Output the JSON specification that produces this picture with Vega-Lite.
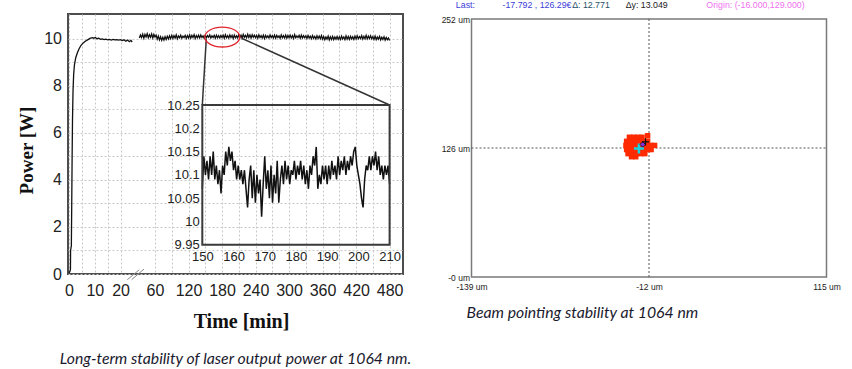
{
 "$schema": "https://vega.github.io/schema/vega-lite/v6.json",
 "background": "white",
 "padding": {"left": 16, "top": 0, "right": 0, "bottom": 0},
 "spacing": 27.5,
 "config": {"view": {"stroke": null}, "font": "Liberation Sans"},
 "hconcat": [
  {
   "width": 335, "height": 260,
   "view": {"stroke": "#4d4d4d", "strokeWidth": 2},
   "title": {"text": "Long-term stability of laser output power at 1064 nm.", "orient": "bottom", "anchor": "middle", "frame": "group", "font": "Lato", "fontStyle": "italic", "fontWeight": "normal", "fontSize": 15.8, "color": "#1a1a2e", "offset": 21},
   "layer": [
    {"layer": [
     {"data": {"values": [
      {"seg":"a","t":0,"p":0.05},{"seg":"a","t":0.3,"p":0.1},{"seg":"a","t":0.55,"p":0.2},{"seg":"a","t":0.6,"p":1.0},{"seg":"a","t":0.9,"p":1.2},{"seg":"a","t":1.05,"p":3.0},{"seg":"a","t":1.2,"p":5.0},{"seg":"a","t":1.35,"p":6.6},{"seg":"a","t":1.55,"p":7.8},{"seg":"a","t":1.8,"p":8.5},{"seg":"a","t":2.1,"p":8.9},{"seg":"a","t":2.6,"p":9.2},{"seg":"a","t":3.2,"p":9.4},{"seg":"a","t":3.9,"p":9.58},{"seg":"a","t":4.6,"p":9.72},{"seg":"a","t":5.4,"p":9.82},{"seg":"a","t":6.3,"p":9.9},{"seg":"a","t":7.2,"p":9.96},{"seg":"a","t":8.1,"p":10.02},{"seg":"a","t":9.0,"p":10.05},{"seg":"a","t":9.6,"p":10.03},{"seg":"a","t":10.2,"p":10.06},{"seg":"a","t":10.8,"p":10.01},{"seg":"a","t":11.5,"p":10.03},{"seg":"a","t":12.2,"p":9.98},{"seg":"a","t":12.9,"p":10.0},{"seg":"a","t":13.6,"p":9.97},{"seg":"a","t":14.3,"p":9.99},{"seg":"a","t":15.0,"p":9.96},{"seg":"a","t":15.7,"p":9.98},{"seg":"a","t":16.4,"p":9.95},{"seg":"a","t":17.1,"p":9.98},{"seg":"a","t":17.8,"p":9.96},{"seg":"a","t":18.5,"p":9.97},{"seg":"a","t":19.2,"p":9.95},{"seg":"a","t":19.9,"p":9.97},{"seg":"a","t":20.6,"p":9.93},{"seg":"a","t":21.3,"p":9.96},{"seg":"a","t":22.0,"p":9.9},{"seg":"a","t":22.7,"p":9.95},{"seg":"a","t":23.4,"p":9.88},{"seg":"a","t":24.0,"p":9.94},{"seg":"a","t":24.5,"p":9.87},
      {"seg":"b","t":32,"p":10.04},{"seg":"b","t":34,"p":10.17},{"seg":"b","t":36,"p":10.06},{"seg":"b","t":38,"p":10.20},{"seg":"b","t":40,"p":10.03},{"seg":"b","t":42,"p":10.19},{"seg":"b","t":44,"p":10.08},{"seg":"b","t":46,"p":10.22},{"seg":"b","t":48,"p":10.05},{"seg":"b","t":50,"p":10.18},{"seg":"b","t":52,"p":10.07},{"seg":"b","t":54,"p":10.21},{"seg":"b","t":56,"p":10.04},{"seg":"b","t":58,"p":10.19},
      {"seg":"b","t":60,"p":10.08},{"seg":"b","t":62,"p":10.16},{"seg":"b","t":64,"p":9.99},{"seg":"b","t":66,"p":10.12},{"seg":"b","t":68,"p":9.96},{"seg":"b","t":70,"p":10.09},{"seg":"b","t":72,"p":9.94},{"seg":"b","t":74,"p":10.07},{"seg":"b","t":76,"p":9.95},{"seg":"b","t":78,"p":10.10},{"seg":"b","t":80,"p":9.98},{"seg":"b","t":82,"p":10.11},{"seg":"b","t":84,"p":10.00},{"seg":"b","t":86,"p":10.13},{"seg":"b","t":88,"p":10.01},
      {"seg":"b","t":90,"p":10.15},{"seg":"b","t":92,"p":10.02},{"seg":"b","t":94,"p":10.14},{"seg":"b","t":96,"p":10.04},{"seg":"b","t":98,"p":10.17},{"seg":"b","t":100,"p":10.01},{"seg":"b","t":102,"p":10.13},{"seg":"b","t":104,"p":10.05},{"seg":"b","t":106,"p":10.16},{"seg":"b","t":108,"p":10.03},{"seg":"b","t":110,"p":10.12},{"seg":"b","t":112,"p":10.06},{"seg":"b","t":114,"p":10.15},{"seg":"b","t":116,"p":10.02},{"seg":"b","t":118,"p":10.14},
      {"seg":"b","t":120,"p":10.04},{"seg":"b","t":122,"p":10.17},{"seg":"b","t":124,"p":10.03},{"seg":"b","t":126,"p":10.15},{"seg":"b","t":128,"p":10.06},{"seg":"b","t":130,"p":10.18},{"seg":"b","t":132,"p":10.02},{"seg":"b","t":134,"p":10.14},{"seg":"b","t":136,"p":10.05},{"seg":"b","t":138,"p":10.16},{"seg":"b","t":140,"p":10.04},{"seg":"b","t":142,"p":10.17},{"seg":"b","t":144,"p":10.06},{"seg":"b","t":146,"p":10.13},{"seg":"b","t":148,"p":10.03},
      {"seg":"b","t":150,"p":10.16},{"seg":"b","t":152,"p":10.05},{"seg":"b","t":154,"p":10.14},{"seg":"b","t":156,"p":10.07},{"seg":"b","t":158,"p":10.17},{"seg":"b","t":160,"p":10.04},{"seg":"b","t":162,"p":10.13},{"seg":"b","t":164,"p":10.06},{"seg":"b","t":166,"p":10.15},{"seg":"b","t":168,"p":10.03},{"seg":"b","t":170,"p":10.16},{"seg":"b","t":172,"p":10.05},{"seg":"b","t":174,"p":10.14},{"seg":"b","t":176,"p":10.04},{"seg":"b","t":178,"p":10.15},
      {"seg":"b","t":180,"p":10.06},{"seg":"b","t":182,"p":10.16},{"seg":"b","t":184,"p":10.03},{"seg":"b","t":186,"p":10.18},{"seg":"b","t":188,"p":10.05},{"seg":"b","t":190,"p":10.14},{"seg":"b","t":192,"p":10.04},{"seg":"b","t":194,"p":10.17},{"seg":"b","t":196,"p":10.06},{"seg":"b","t":198,"p":10.15},{"seg":"b","t":200,"p":10.02},{"seg":"b","t":202,"p":10.16},{"seg":"b","t":204,"p":10.05},{"seg":"b","t":206,"p":10.13},{"seg":"b","t":208,"p":10.04},
      {"seg":"b","t":210,"p":10.18},{"seg":"b","t":212,"p":10.06},{"seg":"b","t":214,"p":10.16},{"seg":"b","t":216,"p":10.04},{"seg":"b","t":218,"p":10.19},{"seg":"b","t":220,"p":10.07},{"seg":"b","t":222,"p":10.15},{"seg":"b","t":224,"p":10.05},{"seg":"b","t":226,"p":10.20},{"seg":"b","t":228,"p":10.06},{"seg":"b","t":230,"p":10.17},{"seg":"b","t":232,"p":10.04},{"seg":"b","t":234,"p":10.18},{"seg":"b","t":236,"p":10.07},{"seg":"b","t":238,"p":10.16},
      {"seg":"b","t":240,"p":10.05},{"seg":"b","t":242,"p":10.15},{"seg":"b","t":244,"p":10.03},{"seg":"b","t":246,"p":10.17},{"seg":"b","t":248,"p":10.06},{"seg":"b","t":250,"p":10.14},{"seg":"b","t":252,"p":10.04},{"seg":"b","t":254,"p":10.16},{"seg":"b","t":256,"p":10.02},{"seg":"b","t":258,"p":10.15},{"seg":"b","t":260,"p":10.05},{"seg":"b","t":262,"p":10.13},{"seg":"b","t":264,"p":10.04},{"seg":"b","t":266,"p":10.17},{"seg":"b","t":268,"p":10.06},
      {"seg":"b","t":270,"p":10.14},{"seg":"b","t":272,"p":10.04},{"seg":"b","t":274,"p":10.16},{"seg":"b","t":276,"p":10.03},{"seg":"b","t":278,"p":10.15},{"seg":"b","t":280,"p":10.06},{"seg":"b","t":282,"p":10.13},{"seg":"b","t":284,"p":10.02},{"seg":"b","t":286,"p":10.17},{"seg":"b","t":288,"p":10.05},{"seg":"b","t":290,"p":10.14},{"seg":"b","t":292,"p":10.04},{"seg":"b","t":294,"p":10.16},{"seg":"b","t":296,"p":10.03},{"seg":"b","t":298,"p":10.15},
      {"seg":"b","t":300,"p":10.05},{"seg":"b","t":302,"p":10.16},{"seg":"b","t":304,"p":10.04},{"seg":"b","t":306,"p":10.14},{"seg":"b","t":308,"p":10.02},{"seg":"b","t":310,"p":10.18},{"seg":"b","t":312,"p":10.05},{"seg":"b","t":314,"p":10.13},{"seg":"b","t":316,"p":10.06},{"seg":"b","t":318,"p":10.15},{"seg":"b","t":320,"p":10.03},{"seg":"b","t":322,"p":10.16},{"seg":"b","t":324,"p":10.04},{"seg":"b","t":326,"p":10.14},{"seg":"b","t":328,"p":10.05},
      {"seg":"b","t":330,"p":10.13},{"seg":"b","t":332,"p":10.02},{"seg":"b","t":334,"p":10.15},{"seg":"b","t":336,"p":10.04},{"seg":"b","t":338,"p":10.12},{"seg":"b","t":340,"p":10.01},{"seg":"b","t":342,"p":10.14},{"seg":"b","t":344,"p":10.03},{"seg":"b","t":346,"p":10.11},{"seg":"b","t":348,"p":10.00},{"seg":"b","t":350,"p":10.13},{"seg":"b","t":352,"p":10.02},{"seg":"b","t":354,"p":10.12},{"seg":"b","t":356,"p":10.01},{"seg":"b","t":358,"p":10.14},
      {"seg":"b","t":360,"p":9.99},{"seg":"b","t":362,"p":10.10},{"seg":"b","t":364,"p":9.97},{"seg":"b","t":366,"p":10.08},{"seg":"b","t":368,"p":9.99},{"seg":"b","t":370,"p":10.12},{"seg":"b","t":372,"p":9.96},{"seg":"b","t":374,"p":10.09},{"seg":"b","t":376,"p":9.98},{"seg":"b","t":378,"p":10.11},{"seg":"b","t":380,"p":9.97},{"seg":"b","t":382,"p":10.08},{"seg":"b","t":384,"p":9.99},{"seg":"b","t":386,"p":10.10},{"seg":"b","t":388,"p":9.98},
      {"seg":"b","t":390,"p":10.09},{"seg":"b","t":392,"p":9.98},{"seg":"b","t":394,"p":10.12},{"seg":"b","t":396,"p":10.00},{"seg":"b","t":398,"p":10.08},{"seg":"b","t":400,"p":9.97},{"seg":"b","t":402,"p":10.13},{"seg":"b","t":404,"p":9.99},{"seg":"b","t":406,"p":10.10},{"seg":"b","t":408,"p":9.98},{"seg":"b","t":410,"p":10.11},{"seg":"b","t":412,"p":10.00},{"seg":"b","t":414,"p":10.09},{"seg":"b","t":416,"p":9.98},{"seg":"b","t":418,"p":10.12},
      {"seg":"b","t":420,"p":10.00},{"seg":"b","t":422,"p":10.13},{"seg":"b","t":424,"p":10.01},{"seg":"b","t":426,"p":10.10},{"seg":"b","t":428,"p":10.02},{"seg":"b","t":430,"p":10.14},{"seg":"b","t":432,"p":9.99},{"seg":"b","t":434,"p":10.11},{"seg":"b","t":436,"p":10.01},{"seg":"b","t":438,"p":10.15},{"seg":"b","t":440,"p":10.00},{"seg":"b","t":442,"p":10.12},{"seg":"b","t":444,"p":10.02},{"seg":"b","t":446,"p":10.13},{"seg":"b","t":448,"p":10.00},
      {"seg":"b","t":450,"p":10.10},{"seg":"b","t":452,"p":9.98},{"seg":"b","t":454,"p":10.12},{"seg":"b","t":456,"p":9.97},{"seg":"b","t":458,"p":10.08},{"seg":"b","t":460,"p":9.99},{"seg":"b","t":462,"p":10.11},{"seg":"b","t":464,"p":9.96},{"seg":"b","t":466,"p":10.07},{"seg":"b","t":468,"p":9.98},{"seg":"b","t":470,"p":10.09},{"seg":"b","t":472,"p":9.95},{"seg":"b","t":474,"p":10.06},{"seg":"b","t":476,"p":9.97},{"seg":"b","t":478,"p":10.04},{"seg":"b","t":480,"p":9.93}
     ]},
      "mark": {"type": "line", "color": "#111111", "strokeWidth": 1.3},
      "encoding": {
       "x": {"field": "t", "type": "quantitative",
        "scale": {"domain": [-0.4, 24.5, 31, 504], "range": [0, 64.2, 70.8, 335], "nice": false, "zero": false},
        "axis": {"values": [0,5,10,15,20,60,90,120,150,180,210,240,270,300,330,360,390,420,450,480], "tickCount": 100, "format": "d",
         "labelExpr": "indexof([0,10,20,60,120,180,240,300,360,420,480], datum.value) >= 0 ? datum.label : ''",
         "title": "Time [min]", "grid": true, "gridDash": [2, 2], "gridColor": "#c8c8c8", "ticks": false, "domain": false,
         "labelFont": "Liberation Sans", "labelFontSize": 16, "labelColor": "#222222", "labelPadding": 8, "labelFlush": false, "labelOverlap": false,
         "titleFont": "Liberation Serif", "titleFontSize": 20, "titleFontWeight": "bold", "titleColor": "#111111", "titlePadding": 13, "titleX": 173}},
       "y": {"field": "p", "type": "quantitative",
        "scale": {"domain": [0, 11.06], "nice": false, "zero": false},
        "axis": {"values": [0,1,2,3,4,5,6,7,8,9,10], "tickCount": 100, "format": "d",
         "labelExpr": "datum.value % 2 == 0 ? datum.label : ''",
         "title": "Power [W]", "grid": true, "gridDash": [2, 2], "gridColor": "#c8c8c8", "ticks": false, "domain": false,
         "labelFont": "Liberation Sans", "labelFontSize": 16, "labelColor": "#222222", "labelPadding": 6.5, "labelOverlap": false,
         "titleFont": "Liberation Serif", "titleFontSize": 19, "titleFontWeight": "bold", "titleColor": "#111111", "titlePadding": 7, "titleY": 136}},
       "detail": {"field": "seg"}
      }
     },
     {"data": {"values": [{}]}, "mark": {"type": "rule", "color": "#8a8a8a", "strokeWidth": 1},
      "encoding": {"x": {"datum": 22.6, "type": "quantitative"}, "x2": {"datum": 31.9}, "y": {"datum": -0.24, "type": "quantitative"}, "y2": {"datum": 0.18}}},
     {"data": {"values": [{}]}, "mark": {"type": "rule", "color": "#8a8a8a", "strokeWidth": 1},
      "encoding": {"x": {"datum": 24.3, "type": "quantitative"}, "x2": {"datum": 40.3}, "y": {"datum": -0.24, "type": "quantitative"}, "y2": {"datum": 0.21}}},
     {"data": {"values": [{}]}, "mark": {"type": "rule", "color": "#333333", "strokeWidth": 1.5},
      "encoding": {"x": {"datum": 151.8, "type": "quantitative"}, "x2": {"datum": 144.7}, "y": {"datum": 9.99, "type": "quantitative"}, "y2": {"datum": 7.19}}},
     {"data": {"values": [{}]}, "mark": {"type": "rule", "color": "#333333", "strokeWidth": 1.5},
      "encoding": {"x": {"datum": 215, "type": "quantitative"}, "x2": {"datum": 480}, "y": {"datum": 10.03, "type": "quantitative"}, "y2": {"datum": 7.19}}},
     {"data": {"values": [{}]}, "mark": {"type": "point", "shape": "M-1,0A1,0.57,0,1,0,1,0A1,0.57,0,1,0,-1,0Z", "size": 1225, "filled": false, "stroke": "#e3262d", "strokeWidth": 1.3, "opacity": 1},
      "encoding": {"x": {"datum": 180.5, "type": "quantitative"}, "y": {"datum": 10.08, "type": "quantitative"}}}
    ]},
    {"layer": [
     {"data": {"values": [
      {"t":150.0,"p":10.07},{"t":150.5,"p":10.14},{"t":151.0,"p":10.10},{"t":151.5,"p":10.13},{"t":152.0,"p":10.09},{"t":152.5,"p":10.14},{"t":153.0,"p":10.10},{"t":153.5,"p":10.15},{"t":154.0,"p":10.09},{"t":154.5,"p":10.12},
      {"t":155.0,"p":10.08},{"t":155.5,"p":10.11},{"t":156.0,"p":10.06},{"t":156.5,"p":10.12},{"t":157.0,"p":10.10},{"t":157.5,"p":10.15},{"t":158.0,"p":10.12},{"t":158.5,"p":10.16},{"t":159.0,"p":10.13},{"t":159.5,"p":10.15},
      {"t":160.0,"p":10.11},{"t":160.5,"p":10.13},{"t":161.0,"p":10.09},{"t":161.5,"p":10.12},{"t":162.0,"p":10.09},{"t":162.5,"p":10.11},{"t":163.0,"p":10.08},{"t":163.5,"p":10.11},{"t":164.0,"p":10.07},{"t":164.5,"p":10.03},
      {"t":165.0,"p":10.09},{"t":165.5,"p":10.12},{"t":166.0,"p":10.05},{"t":166.5,"p":10.11},{"t":167.0,"p":10.04},{"t":167.5,"p":10.10},{"t":168.0,"p":10.06},{"t":168.5,"p":10.09},{"t":169.0,"p":10.01},{"t":169.5,"p":10.08},
      {"t":170.0,"p":10.14},{"t":170.5,"p":10.07},{"t":171.0,"p":10.11},{"t":171.5,"p":10.05},{"t":172.0,"p":10.12},{"t":172.5,"p":10.04},{"t":173.0,"p":10.10},{"t":173.5,"p":10.06},{"t":174.0,"p":10.13},{"t":174.5,"p":10.04},
      {"t":175.0,"p":10.09},{"t":175.5,"p":10.12},{"t":176.0,"p":10.08},{"t":176.5,"p":10.13},{"t":177.0,"p":10.09},{"t":177.5,"p":10.12},{"t":178.0,"p":10.08},{"t":178.5,"p":10.11},{"t":179.0,"p":10.10},{"t":179.5,"p":10.13},
      {"t":180.0,"p":10.09},{"t":180.5,"p":10.12},{"t":181.0,"p":10.10},{"t":181.5,"p":10.13},{"t":182.0,"p":10.09},{"t":182.5,"p":10.12},{"t":183.0,"p":10.08},{"t":183.5,"p":10.11},{"t":184.0,"p":10.07},{"t":184.5,"p":10.12},
      {"t":185.0,"p":10.10},{"t":185.5,"p":10.14},{"t":186.0,"p":10.12},{"t":186.5,"p":10.16},{"t":187.0,"p":10.07},{"t":187.5,"p":10.10},{"t":188.0,"p":10.08},{"t":188.5,"p":10.12},{"t":189.0,"p":10.09},{"t":189.5,"p":10.12},
      {"t":190.0,"p":10.08},{"t":190.5,"p":10.12},{"t":191.0,"p":10.09},{"t":191.5,"p":10.13},{"t":192.0,"p":10.10},{"t":192.5,"p":10.12},{"t":193.0,"p":10.09},{"t":193.5,"p":10.14},{"t":194.0,"p":10.10},{"t":194.5,"p":10.13},
      {"t":195.0,"p":10.11},{"t":195.5,"p":10.14},{"t":196.0,"p":10.10},{"t":196.5,"p":10.13},{"t":197.0,"p":10.11},{"t":197.5,"p":10.14},{"t":198.0,"p":10.12},{"t":198.5,"p":10.15},{"t":199.0,"p":10.16},{"t":199.5,"p":10.12},
      {"t":200.0,"p":10.10},{"t":200.5,"p":10.08},{"t":201.0,"p":10.05},{"t":201.5,"p":10.03},{"t":202.0,"p":10.09},{"t":202.5,"p":10.12},{"t":203.0,"p":10.11},{"t":203.5,"p":10.14},{"t":204.0,"p":10.11},{"t":204.5,"p":10.14},
      {"t":205.0,"p":10.12},{"t":205.5,"p":10.15},{"t":206.0,"p":10.11},{"t":206.5,"p":10.14},{"t":207.0,"p":10.10},{"t":207.5,"p":10.12},{"t":208.0,"p":10.09},{"t":208.5,"p":10.12},{"t":209.0,"p":10.10},{"t":209.5,"p":10.12},
      {"t":210.0,"p":10.08}
     ]},
      "mark": {"type": "line", "color": "#111111", "strokeWidth": 1.5},
      "encoding": {
       "x": {"field": "t", "type": "quantitative",
        "scale": {"domain": [150, 210], "range": [134.3, 321.6], "nice": false, "zero": false},
        "axis": {"orient": "bottom", "offset": -29.3, "values": [150,160,170,180,190,200,210], "tickCount": 100, "format": "d", "title": null, "grid": false, "ticks": false, "domain": false,
         "labelFont": "Liberation Sans", "labelFontSize": 13, "labelColor": "#222222", "labelPadding": 6, "labelFlush": false, "labelOverlap": false}},
       "y": {"field": "p", "type": "quantitative",
        "scale": {"domain": [9.95, 10.25], "range": [230.7, 91], "nice": false, "zero": false},
        "axis": {"orient": "left", "offset": -134.3, "values": [9.95,10,10.05,10.1,10.15,10.2,10.25], "tickCount": 100, "format": "~g", "title": null, "grid": false, "ticks": false, "domain": false,
         "labelFont": "Liberation Sans", "labelFontSize": 13, "labelColor": "#222222", "labelPadding": 3, "labelOverlap": false}}
      }
     },
     {"data": {"values": [{}]}, "mark": {"type": "rect", "fill": "transparent", "stroke": "#3a3a3a", "strokeWidth": 2},
      "encoding": {"x": {"datum": 150, "type": "quantitative"}, "x2": {"datum": 210}, "y": {"datum": 9.95, "type": "quantitative"}, "y2": {"datum": 10.25}}}
    ]}
   ],
   "resolve": {"scale": {"x": "independent", "y": "independent"}, "axis": {"x": "independent", "y": "independent"}}
  },
  {
   "width": 355, "height": 263,
   "title": {"text": "Beam pointing stability at 1064 nm", "orient": "bottom", "anchor": "start", "frame": "group", "font": "Lato", "fontStyle": "italic", "fontWeight": "normal", "fontSize": 15.8, "color": "#1a1a2e", "offset": 15, "dx": -5},
   "layer": [
    {"data": {"values": [{}]}, "mark": {"type": "rect", "fill": "transparent", "stroke": "#7a7a7a", "strokeWidth": 1.5},
     "encoding": {"x": {"datum": -139, "type": "quantitative"}, "x2": {"datum": 115}, "y": {"datum": 0, "type": "quantitative"}, "y2": {"datum": 252}}},
    {"data": {"values": [{}]}, "mark": {"type": "rule", "color": "#555555", "strokeWidth": 1, "strokeDash": [2, 2]},
     "encoding": {"x": {"datum": -12, "type": "quantitative"}, "y": {"datum": 0, "type": "quantitative"}, "y2": {"datum": 252}}},
    {"data": {"values": [{}]}, "mark": {"type": "rule", "color": "#555555", "strokeWidth": 1, "strokeDash": [2, 2]},
     "encoding": {"x": {"datum": -139, "type": "quantitative"}, "x2": {"datum": 115}, "y": {"datum": 126, "type": "quantitative"}}},
    {"data": {"values": [
      {"x":-26,"y":136.5},{"x":-23,"y":136.5},{"x":-20,"y":136.5},{"x":-17,"y":136.5},{"x":-13,"y":138},
      {"x":-28,"y":132.5},{"x":-25,"y":132.5},{"x":-22,"y":132.5},{"x":-19,"y":132.5},{"x":-16,"y":132.5},{"x":-13,"y":132.5},
      {"x":-28.5,"y":128.5},{"x":-25.5,"y":128.5},{"x":-22.5,"y":128.5},{"x":-19.5,"y":128.5},{"x":-16.5,"y":128.5},{"x":-13.5,"y":128.5},{"x":-10.5,"y":128.5},{"x":-8,"y":128.5},
      {"x":-28,"y":124.5},{"x":-25,"y":124.5},{"x":-22,"y":124.5},{"x":-19,"y":124.5},{"x":-16,"y":124.5},{"x":-13,"y":124.5},{"x":-10.5,"y":124.5},
      {"x":-27,"y":120.5},{"x":-24,"y":120.5},{"x":-21,"y":120.5},{"x":-18,"y":120.5},{"x":-15,"y":120.5},
      {"x":-24.5,"y":117.5},{"x":-21.5,"y":117.5}
     ]},
     "mark": {"type": "point", "shape": "square", "filled": true, "size": 30, "color": "#ff2a00", "opacity": 1},
     "encoding": {
      "x": {"field": "x", "type": "quantitative", "scale": {"domain": [-139, 115], "nice": false, "zero": false},
       "axis": {"values": [-139, -12, 115], "labelExpr": "datum.value + ' um'", "title": null, "grid": false, "ticks": false, "domain": false,
        "labelFont": "Liberation Sans", "labelFontSize": 8.5, "labelColor": "#222222", "labelPadding": 5, "labelFlush": false, "labelOverlap": false}},
      "y": {"field": "y", "type": "quantitative", "scale": {"domain": [0, 256.9], "nice": false, "zero": false},
       "axis": {"values": [0, 126, 252], "labelExpr": "datum.value == 0 ? '-0 um' : datum.value + ' um'", "title": null, "grid": false, "ticks": false, "domain": false,
        "labelFont": "Liberation Sans", "labelFontSize": 8.5, "labelColor": "#222222", "labelPadding": 2, "labelOverlap": false}}
     }
    },
    {"data": {"values": [{}]}, "mark": {"type": "point", "shape": "M-1,0L1,0M0,-1L0,1", "size": 100, "filled": false, "stroke": "#19d3e0", "strokeWidth": 2.5, "opacity": 1},
     "encoding": {"x": {"datum": -19.2, "type": "quantitative"}, "y": {"datum": 125.6, "type": "quantitative"}}},
    {"data": {"values": [{}]}, "mark": {"type": "point", "shape": "diamond", "size": 30, "filled": true, "fill": "#8a2be2", "stroke": "#111111", "strokeWidth": 0.8, "opacity": 1},
     "encoding": {"x": {"datum": -16.5, "type": "quantitative"}, "y": {"datum": 129.5, "type": "quantitative"}}},
    {"data": {"values": [{}]}, "mark": {"type": "point", "shape": "M-1,0L1,0M0,-1L0,1", "size": 50, "filled": false, "stroke": "#111111", "strokeWidth": 1.2, "opacity": 1},
     "encoding": {"x": {"datum": -14.5, "type": "quantitative"}, "y": {"datum": 132, "type": "quantitative"}}},
    {"data": {"values": [{}]}, "mark": {"type": "text", "text": "Last:", "align": "left", "baseline": "middle", "font": "Liberation Sans", "fontSize": 8.8, "color": "#3d3dd8"},
     "encoding": {"x": {"datum": -150.2, "type": "quantitative"}, "y": {"datum": 265.7, "type": "quantitative"}}},
    {"data": {"values": [{}]}, "mark": {"type": "text", "text": "-17.792 , 126.29€", "align": "left", "baseline": "middle", "font": "Liberation Sans", "fontSize": 8.8, "color": "#3d3dd8"},
     "encoding": {"x": {"datum": -116.8, "type": "quantitative"}, "y": {"datum": 265.7, "type": "quantitative"}}},
    {"data": {"values": [{}]}, "mark": {"type": "text", "text": "Δ: 12.771", "align": "left", "baseline": "middle", "font": "Liberation Sans", "fontSize": 8.8, "color": "#1f4f66"},
     "encoding": {"x": {"datum": -67, "type": "quantitative"}, "y": {"datum": 265.7, "type": "quantitative"}}},
    {"data": {"values": [{}]}, "mark": {"type": "text", "text": "Δy: 13.049", "align": "left", "baseline": "middle", "font": "Liberation Sans", "fontSize": 8.8, "color": "#1a1a1a"},
     "encoding": {"x": {"datum": -28.7, "type": "quantitative"}, "y": {"datum": 265.7, "type": "quantitative"}}},
    {"data": {"values": [{}]}, "mark": {"type": "text", "text": "Origin: (-16.000,129.000)", "align": "left", "baseline": "middle", "font": "Liberation Sans", "fontSize": 8.8, "color": "#f070f0"},
     "encoding": {"x": {"datum": 29.0, "type": "quantitative"}, "y": {"datum": 265.7, "type": "quantitative"}}}
   ]
  }
 ]
}
